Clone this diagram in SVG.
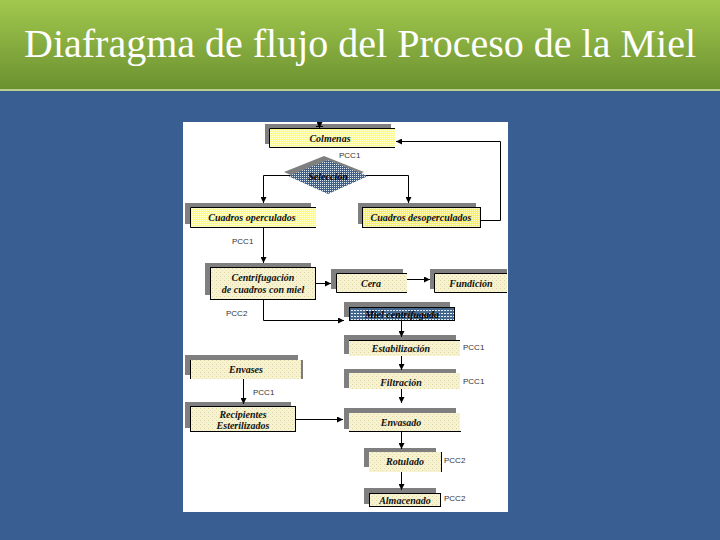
<svg xmlns="http://www.w3.org/2000/svg" width="720" height="540" viewBox="0 0 720 540">
<style>
.lbl{font-family:"Liberation Serif",serif;font-style:italic;font-weight:bold;font-size:10px;fill:#111;text-anchor:middle}
.pcc{font-family:"Liberation Sans",sans-serif;font-size:8px;fill:#333}
.sh{fill:#7f7f7f}
.pale{fill:url(#pale)}
.bord{fill:none;stroke:#000;stroke-width:1}
.con{fill:none;stroke:#000;stroke-width:1}
</style>
<defs>
<linearGradient id="g" x1="0" y1="0" x2="0" y2="1">
<stop offset="0" stop-color="#a2c84e"/>
<stop offset="1" stop-color="#6b9130"/>
</linearGradient>
<pattern id="pale" width="4" height="4" patternUnits="userSpaceOnUse">
<rect width="4" height="4" fill="#f7f2d0"/>
<rect x="0" y="0" width="1" height="1" fill="#ddd5a4"/>
<rect x="2" y="2" width="1" height="1" fill="#e6dfb6"/>
</pattern>
<pattern id="yel" width="2" height="2" patternUnits="userSpaceOnUse">
<rect width="2" height="2" fill="#fdfb8a"/>
<rect x="0" y="0" width="1" height="1" fill="#ffffd8"/>
</pattern>
<pattern id="yel2" width="2" height="2" patternUnits="userSpaceOnUse">
<rect width="2" height="2" fill="#f6ef6a"/>
<rect x="0" y="0" width="1" height="1" fill="#fffbd0"/>
</pattern>
<pattern id="dots" width="2" height="2" patternUnits="userSpaceOnUse">
<rect width="2" height="2" fill="#3f6188"/>
<rect x="0" y="0" width="1" height="1" fill="#dfe7f0"/>
</pattern>
<pattern id="stripes" width="3" height="3" patternUnits="userSpaceOnUse">
<rect width="3" height="3" fill="#44678e"/>
<rect x="0" y="1" width="2" height="1" fill="#e6edf4"/>
</pattern>
<marker id="ah" markerWidth="6" markerHeight="6" refX="6" refY="3" orient="auto" markerUnits="userSpaceOnUse">
<path d="M0,0 L6,3 L0,6 z" fill="#000"/>
</marker>
</defs>

<rect x="0" y="0" width="720" height="540" fill="#395f92"/>
<rect x="0" y="0" width="720" height="89" fill="url(#g)"/>
<rect x="0" y="89" width="720" height="2" fill="#b9cf8f"/>
<text x="360" y="57" font-family="'Liberation Serif',serif" font-size="40" fill="#fff" text-anchor="middle">Diafragma de flujo del Proceso de la Miel</text>

<rect x="183" y="122" width="325" height="390" fill="#fff"/>

<g id="colmenas">
<rect class="sh" x="265" y="124" width="126" height="20"/>
<rect x="269" y="128" width="126" height="20" fill="url(#yel)"/>
<path class="bord" d="M395,128.5 H269.5 V147.5 H395"/>
<text class="lbl" x="330" y="142">Colmenas</text>
<text class="pcc" x="339" y="158">PCC1</text>
</g>

<g id="seleccion">
<path class="sh" d="M324,156 L364,172 L324,190 L284,172 z"/>
<path d="M328,160 L368,176 L328,194 L288,176 z" fill="url(#dots)"/>
<text class="lbl" x="328" y="180" style="fill:#000">Selección</text>
</g>

<g id="cuadros-operculados">
<rect class="sh" x="185" y="203" width="126" height="21"/>
<rect x="190" y="207" width="126" height="21" fill="url(#yel)"/>
<path class="bord" d="M316,207.5 H190.5 V227.5 H316"/>
<text class="lbl" x="252" y="221">Cuadros operculados</text>
</g>

<g id="cuadros-desoperculados">
<rect class="sh" x="358" y="203" width="118" height="21"/>
<rect x="362" y="207" width="119" height="21" fill="url(#yel2)"/>
<rect class="bord" x="362.5" y="207.5" width="118" height="20"/>
<text class="lbl" x="421" y="221">Cuadros desoperculados</text>
</g>

<text class="pcc" x="232" y="244">PCC1</text>

<g id="centrifugacion">
<rect class="sh" x="205" y="263" width="106" height="32"/>
<rect x="210" y="267" width="106" height="33" class="pale"/>
<rect class="bord" x="210.5" y="267.5" width="105" height="32"/>
<text class="lbl" x="263" y="281">Centrifugación</text>
<text class="lbl" x="263" y="293">de cuadros con miel</text>
<text class="pcc" x="226" y="316">PCC2</text>
</g>

<g id="cera">
<rect class="sh" x="331" y="269" width="72" height="20"/>
<rect x="336" y="273" width="71" height="20" class="pale"/>
<path class="bord" d="M407,273.5 H336.5 V292.5 H407"/>
<text class="lbl" x="371" y="287">Cera</text>
</g>

<g id="fundicion">
<rect class="sh" x="430" y="269" width="77" height="20"/>
<rect x="434" y="273" width="73" height="20" class="pale"/>
<path class="bord" d="M507,273.5 H434.5 V292.5 H507"/>
<text class="lbl" x="471" y="287">Fundición</text>
</g>

<g id="miel-centrifugada">
<rect class="sh" x="344" y="302" width="106" height="15"/>
<rect x="349" y="307" width="106" height="14" fill="url(#stripes)"/>
<rect class="bord" x="349.5" y="307.5" width="105" height="13"/>
<text class="lbl" x="402" y="318" style="fill:#000">Miel centrifugada</text>
</g>

<g id="estabilizacion">
<rect class="sh" x="344" y="335" width="112" height="19"/>
<rect x="349" y="340" width="111" height="16" class="pale"/>
<path class="bord" d="M349,340.5 H460"/>
<text class="lbl" x="401" y="352">Estabilización</text>
<text class="pcc" x="463" y="350">PCC1</text>
</g>

<g id="filtracion">
<rect class="sh" x="344" y="369" width="112" height="19"/>
<rect x="349" y="373" width="111" height="16" class="pale"/>
<text class="lbl" x="401" y="386">Filtración</text>
<text class="pcc" x="463" y="384">PCC1</text>
</g>

<g id="envasado">
<rect class="sh" x="344" y="408" width="112" height="21"/>
<rect x="349" y="413" width="111" height="19" class="pale"/>
<path class="bord" d="M349,431.5 H461"/>
<text class="lbl" x="401" y="426">Envasado</text>
</g>

<g id="envases">
<rect class="sh" x="185" y="355" width="113" height="20"/>
<rect x="190" y="360" width="112" height="19" class="pale"/>
<path class="bord" d="M190.5,360 V379 M302,360 V379"/>
<text class="lbl" x="246" y="373">Envases</text>
<text class="pcc" x="253" y="395">PCC1</text>
</g>

<g id="recipientes">
<rect class="sh" x="185" y="402" width="106" height="26"/>
<rect x="190" y="406" width="106" height="26" class="pale"/>
<rect class="bord" x="190.5" y="406.5" width="105" height="25"/>
<text class="lbl" x="243" y="418">Recipientes</text>
<text class="lbl" x="243" y="429">Esterilizados</text>
</g>

<g id="rotulado">
<rect class="sh" x="364" y="448" width="72" height="19"/>
<rect x="369" y="452" width="72" height="20" class="pale"/>
<path class="bord" d="M441.5,452 V472"/>
<text class="lbl" x="405" y="465">Rotulado</text>
<text class="pcc" x="444" y="463">PCC2</text>
</g>

<g id="almacenado">
<rect class="sh" x="364" y="488" width="72" height="16"/>
<rect x="369" y="493" width="72" height="14" class="pale"/>
<rect class="bord" x="369.5" y="493.5" width="71" height="13"/>
<text class="lbl" x="405" y="504">Almacenado</text>
<text class="pcc" x="444" y="501">PCC2</text>
</g>

<g id="connectors">
<path class="con" d="M319.5,122 V128" marker-end="url(#ah)"/>
<path class="con" d="M316,126.5 H323"/>
<path class="con" d="M481,220.5 H500.5 V141.5 H396" marker-end="url(#ah)"/>
<path class="con" d="M290,175.5 H263.5 V203" marker-end="url(#ah)"/>
<path class="con" d="M366,175.5 H408.5 V203" marker-end="url(#ah)"/>
<path class="con" d="M263.5,228 V263" marker-end="url(#ah)"/>
<path class="con" d="M316,283.5 H331" marker-end="url(#ah)"/>
<path class="con" d="M407,279.5 H430" marker-end="url(#ah)"/>
<path class="con" d="M263.5,300 V320.5 H344" marker-end="url(#ah)"/>
<path class="con" d="M401.5,321 V337" marker-end="url(#ah)"/>
<path class="con" d="M401.5,356 V370" marker-end="url(#ah)"/>
<path class="con" d="M401.5,389 V403" marker-end="url(#ah)"/>
<path class="con" d="M243.5,379 V404" marker-end="url(#ah)"/>
<path class="con" d="M296,419.5 H343" marker-end="url(#ah)"/>
<path class="con" d="M401.5,432 V449" marker-end="url(#ah)"/>
<path class="con" d="M401.5,472 V490" marker-end="url(#ah)"/>
</g>
</svg>
